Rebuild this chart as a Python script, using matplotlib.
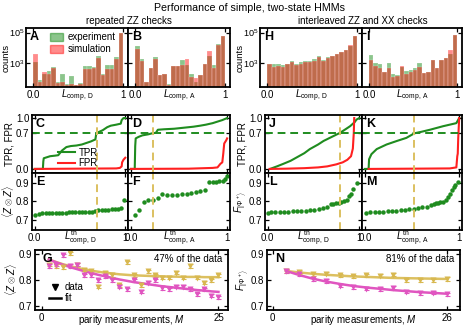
import matplotlib
matplotlib.use('Agg')
import matplotlib.pyplot as plt
from matplotlib.lines import Line2D
from matplotlib.patches import Patch

plt.rcParams['font.family'] = ['Liberation Sans', 'DejaVu Sans']
plt.rcParams['mathtext.fontset'] = 'custom'
plt.rcParams['mathtext.rm'] = 'Liberation Sans'
plt.rcParams['mathtext.it'] = 'Liberation Sans:italic'
plt.rcParams['mathtext.bf'] = 'Liberation Sans:bold'
plt.rcParams['font.size'] = 7

# ---------------- data ----------------
bin_left = [0.00, 0.05, 0.10, 0.15, 0.20, 0.25, 0.30, 0.35, 0.40, 0.45,
            0.50, 0.55, 0.60, 0.65, 0.70, 0.75, 0.80, 0.85, 0.90, 0.95]

# log10(counts)
a_exp = [3.05, 1.85, 2.25, 2.45, 2.70, 1.70, 2.25, 1.60, 2.15, 1.55,
         1.65, 2.80, 2.80, 2.75, 3.45, 2.25, 2.85, 2.85, 3.35, 4.95]
a_sim = [3.55, 1.75, 2.40, 2.25, 2.68, 1.65, 1.75, 1.55, 1.60, 1.50,
         1.60, 2.62, 2.60, 2.65, 3.30, 2.20, 2.60, 2.60, 3.25, 4.98]
b_exp = [4.10, 3.22, 1.75, 2.63, 3.35, 2.20, 2.25, 1.57, 2.80, 2.80,
         3.17, 2.85, 2.23, 1.75, 2.20, 2.90, 3.46, 2.85, 4.27, 4.76]
b_sim = [3.90, 3.15, 1.72, 2.67, 3.28, 2.20, 2.25, 1.55, 2.80, 2.80,
         2.85, 3.28, 2.08, 1.97, 2.20, 2.92, 3.77, 2.63, 4.20, 4.76]
h_exp = [2.95, 2.90, 2.95, 2.85, 2.95, 3.15, 2.95, 3.05, 3.15, 3.15,
         3.25, 3.45, 3.20, 3.35, 3.45, 3.60, 3.70, 3.85, 4.10, 4.75]
h_sim = [2.95, 2.75, 2.80, 2.75, 2.90, 3.05, 2.85, 2.95, 3.05, 3.05,
         3.15, 3.35, 3.15, 3.30, 3.45, 3.60, 3.70, 3.85, 4.15, 4.78]
i_exp = [3.50, 2.96, 2.90, 2.40, 2.96, 2.23, 2.19, 2.75, 2.45, 2.52,
         2.63, 2.96, 2.30, 2.40, 3.18, 2.63, 3.18, 3.33, 3.60, 4.87]
i_sim = [3.18, 2.80, 2.63, 2.40, 2.63, 2.08, 2.10, 2.80, 2.23, 2.36,
         2.50, 2.74, 2.30, 2.40, 3.18, 2.63, 3.18, 3.33, 3.83, 4.87]

c_tpr_x = [0.0, 0.09, 0.095, 0.10, 0.17, 0.22, 0.26, 0.30, 0.35, 0.40, 0.46, 0.52,
           0.57, 0.62, 0.67, 0.68, 0.70, 0.75, 0.80, 0.84, 0.90, 0.95, 0.96, 0.98, 1.0]
c_tpr_y = [0.0, 0.0, 0.15, 0.21, 0.25, 0.26, 0.27, 0.36, 0.43, 0.45, 0.46, 0.48,
           0.51, 0.54, 0.58, 0.70, 0.72, 0.76, 0.82, 0.85, 0.87, 0.89, 0.96, 1.0, 1.0]
c_fpr_x = [0.0, 0.90, 0.94, 0.96, 0.965, 0.98, 1.0]
c_fpr_y = [0.0, 0.01, 0.02, 0.05, 0.13, 0.18, 0.22]
d_tpr_x = [0.0, 0.04, 0.045, 0.05, 0.08, 0.12, 0.18, 0.22, 0.26, 0.28, 0.35, 0.45,
           0.50, 0.55, 0.65, 0.72, 0.78, 0.85, 0.90, 0.95, 1.0]
d_tpr_y = [0.0, 0.0, 0.45, 0.60, 0.63, 0.66, 0.68, 0.70, 0.71, 0.77, 0.78, 0.79,
           0.80, 0.81, 0.83, 0.85, 0.87, 0.90, 0.93, 0.96, 1.0]
d_fpr_x = [0.0, 0.60, 0.85, 0.90, 0.93, 0.95, 0.96, 0.97, 0.99, 1.0]
d_fpr_y = [0.0, 0.005, 0.02, 0.03, 0.10, 0.13, 0.30, 0.50, 0.56, 0.60]
j_tpr_x = [0.025, 0.10, 0.17, 0.25, 0.32, 0.40, 0.46, 0.55, 0.61, 0.70, 0.79,
           0.85, 0.90, 0.95, 0.97, 1.0]
j_tpr_y = [0.0, 0.05, 0.10, 0.16, 0.23, 0.31, 0.39, 0.48, 0.55, 0.63, 0.71,
           0.78, 0.84, 0.92, 0.97, 1.0]
j_fpr_x = [0.02, 0.20, 0.40, 0.55, 0.65, 0.75, 0.82, 0.87, 0.91, 0.93, 0.94, 0.945]
j_fpr_y = [0.0, 0.005, 0.015, 0.03, 0.05, 0.09, 0.13, 0.18, 0.25, 0.40, 0.70, 1.0]
k_tpr_x = [0.0, 0.04, 0.045, 0.07, 0.126, 0.23, 0.34, 0.44, 0.525, 0.60, 0.69,
           0.83, 0.97, 1.0]
k_tpr_y = [0.0, 0.0, 0.19, 0.29, 0.39, 0.48, 0.55, 0.61, 0.70, 0.73, 0.77,
           0.84, 0.90, 1.0]
k_fpr_x = [0.04, 0.50, 0.90, 0.97, 0.98, 0.985, 0.99, 1.0]
k_fpr_y = [0.0, 0.005, 0.01, 0.03, 0.25, 0.30, 0.60, 1.0]

e_x = [0.0, 0.045, 0.08, 0.12, 0.155, 0.19, 0.23, 0.265, 0.30, 0.34, 0.375, 0.41, 0.45, 0.485,
       0.52, 0.56, 0.595, 0.63, 0.665, 0.70, 0.74, 0.775, 0.81, 0.85, 0.885, 0.92, 0.955, 0.985]
e_y = [0.727, 0.735, 0.737, 0.738, 0.738, 0.739, 0.739, 0.740, 0.740, 0.740, 0.741, 0.741,
       0.741, 0.742, 0.742, 0.743, 0.744, 0.745, 0.748, 0.755, 0.756, 0.755, 0.756, 0.757,
       0.758, 0.760, 0.762, 0.808]
f_x = [0.043, 0.088, 0.136, 0.18, 0.233, 0.278, 0.327, 0.372, 0.424, 0.476, 0.528, 0.58,
       0.62, 0.674, 0.718, 0.77, 0.815, 0.85, 0.885, 0.92, 0.955, 0.98, 1.0]
f_y = [0.726, 0.753, 0.796, 0.805, 0.809, 0.819, 0.837, 0.833, 0.832, 0.835, 0.837, 0.840,
       0.843, 0.849, 0.854, 0.858, 0.902, 0.904, 0.905, 0.907, 0.909, 0.918, 0.935]
l_x = [0.0, 0.036, 0.084, 0.13, 0.178, 0.226, 0.273, 0.32, 0.368, 0.415, 0.462, 0.51, 0.557,
       0.604, 0.652, 0.688, 0.717, 0.747, 0.776, 0.805, 0.834, 0.863, 0.885, 0.907, 0.936, 0.973]
l_y = [0.740, 0.741, 0.742, 0.743, 0.744, 0.745, 0.746, 0.748, 0.749, 0.751, 0.753, 0.755,
       0.757, 0.763, 0.772, 0.785, 0.788, 0.790, 0.792, 0.795, 0.800, 0.809, 0.826, 0.840,
       0.867, 0.896]
m_x = [0.013, 0.059, 0.105, 0.151, 0.197, 0.243, 0.29, 0.335, 0.38, 0.427, 0.473, 0.519,
       0.565, 0.611, 0.657, 0.703, 0.728, 0.753, 0.777, 0.802, 0.827, 0.86, 0.88, 0.90,
       0.92, 0.94, 0.96, 0.99]
m_y = [0.740, 0.741, 0.743, 0.743, 0.745, 0.747, 0.749, 0.750, 0.753, 0.755, 0.758, 0.761,
       0.765, 0.768, 0.772, 0.781, 0.788, 0.791, 0.793, 0.795, 0.798, 0.809, 0.823, 0.840,
       0.858, 0.875, 0.889, 0.902]

thr_cd, thr_jk = 0.69, 0.23
thr_j, thr_k = 0.79, 0.525

g_m = list(range(1, 26))
g_yel = [0.860, 0.855, 0.850, 0.905, 0.860, 0.840, 0.835, 0.775, 0.830, 0.820, 0.780, 0.870,
         0.820, 0.780, 0.835, 0.820, 0.810, 0.810, 0.830, 0.810, 0.855, 0.810, 0.790, 0.800, 0.820]
g_mag = [0.855, 0.860, 0.897, 0.855, 0.860, 0.820, 0.820, 0.800, 0.815, 0.800, 0.775, 0.765,
         0.800, 0.755, 0.790, 0.800, 0.770, 0.765, 0.775, 0.775, 0.765, 0.745, 0.765, 0.740, 0.735]
g_yel_fit = [0.880, 0.871, 0.862, 0.855, 0.848, 0.842, 0.837, 0.833, 0.829, 0.826, 0.823, 0.821,
             0.819, 0.818, 0.817, 0.816, 0.815, 0.814, 0.814, 0.813, 0.813, 0.813, 0.812, 0.812, 0.812]
g_mag_fit = [0.880, 0.870, 0.860, 0.851, 0.843, 0.835, 0.828, 0.821, 0.815, 0.809, 0.803, 0.798,
             0.793, 0.789, 0.785, 0.781, 0.777, 0.774, 0.771, 0.768, 0.765, 0.762, 0.760, 0.757, 0.755]

n_m = [2, 4, 6, 8, 10, 12, 14, 16, 18, 20, 22, 24, 26]
n_yel = [0.836, 0.832, 0.823, 0.825, 0.819, 0.815, 0.819, 0.818, 0.822, 0.800, 0.800, 0.800, 0.805]
n_mag = [0.836, 0.823, 0.803, 0.797, 0.778, 0.772, 0.768, 0.766, 0.770, 0.756, 0.749, 0.752, 0.746]
n_yel_fit = [0.836, 0.830, 0.825, 0.821, 0.818, 0.815, 0.813, 0.811, 0.809, 0.808, 0.807, 0.806, 0.805]
n_mag_fit = [0.836, 0.820, 0.806, 0.795, 0.786, 0.778, 0.772, 0.767, 0.762, 0.758, 0.754, 0.751, 0.748]

# ---------------- style ----------------
W, H = 468, 326
GREEN = '#1f8c1f'
RED = '#ff2020'
YEL = '#dcc060'
MAG = '#e055c0'
YEL_PT = '#d8b850'

fig = plt.figure(figsize=(W / 100, H / 100), dpi=100)


def px_axes(l, t, r, b):
    ax = fig.add_axes([l / W, 1 - b / H, (r - l) / W, (b - t) / H])
    for s in ax.spines.values():
        s.set_linewidth(1.3)
    ax.tick_params(direction='in', top=True, right=True, length=3, width=0.9,
                   labelsize=7, pad=2)
    ax.tick_params(which='minor', length=0)
    return ax


def letter(ax, s):
    ax.text(0.04, 0.95, s, transform=ax.transAxes, fontsize=9, fontweight='bold',
            va='top', ha='left')


def hist(ax, exp, sim, lab, xl):
    ax.bar(bin_left, [10 ** v for v in exp], width=0.05, align='edge', bottom=1,
           color='green', alpha=0.45, edgecolor='white', linewidth=0.3)
    ax.bar(bin_left, [10 ** v for v in sim], width=0.05, align='edge', bottom=1,
           color='red', alpha=0.45, edgecolor='white', linewidth=0.3)
    ax.set_yscale('log')
    ax.set_ylim(10 ** 1.4, 10 ** 5.3)
    ax.set_xlim(-0.078, 1.055)
    ax.set_yticks([1e3, 1e5])
    ax.yaxis.set_minor_locator(plt.NullLocator())
    ax.tick_params(axis='y', pad=1.2, labelsize=6.6)
    ax.set_xticks([0, 1])
    ax.set_xticklabels(['0.0', '1'])
    ax.set_xlabel(xl, labelpad=-9)
    letter(ax, lab)


fig.text(250 / W, 1 - 8 / H, 'Performance of simple, two-state HMMs', ha='center',
         va='center', fontsize=7.7)
fig.text(129 / W, 1 - 21 / H, 'repeated ZZ checks', ha='center', va='center')
fig.text(363 / W, 1 - 21 / H, 'interleaved ZZ and XX checks', ha='center', va='center')

xl_d = r'$L_{\rm comp,\,D}$'
xl_a = r'$L_{\rm comp,\,A}$'
xl_td = r'$L^{\rm th}_{\rm comp,\,D}$'
xl_ta = r'$L^{\rm th}_{\rm comp,\,A}$'

axA = px_axes(26, 28, 128, 87)
hist(axA, a_exp, a_sim, 'A', xl_d)
axA.set_ylabel('counts', labelpad=-1, fontsize=6.8)
axA.legend(handles=[Patch(color='green', alpha=0.45, label='experiment'),
                    Patch(color='red', alpha=0.45, label='simulation')],
           loc='upper left', bbox_to_anchor=(0.18, 1.03), frameon=False,
           handlelength=1.3, handleheight=0.9, handletextpad=0.5, labelspacing=0.2,
           borderaxespad=0.2, fontsize=7)
axB = px_axes(128, 28, 230, 87)
hist(axB, b_exp, b_sim, 'B', xl_a)
axB.set_yticklabels([])
axH = px_axes(260, 28, 362, 87)
hist(axH, h_exp, h_sim, 'H', xl_d)
axH.set_ylabel('counts', labelpad=-1, fontsize=6.8)
axI = px_axes(362, 28, 462, 87)
hist(axI, i_exp, i_sim, 'I', xl_a)
axI.set_yticklabels([])


def roc(ax, tx, ty, fx, fy, thr, lab, ylab):
    ax.plot(tx, ty, color=GREEN, lw=1.5, label='TPR')
    ax.plot(fx, fy, color=RED, lw=1.5, label='FPR')
    ax.axhline(0.7, color=GREEN, lw=1.4, dashes=(4, 2.5))
    ax.axvline(thr, color=YEL, lw=1.4, dashes=(4, 2.5))
    ax.set_xlim(-0.03, 1.03)
    ax.set_ylim(-0.08, 1.06)
    ax.set_yticks([0, 0.7, 1.0])
    ax.set_xticks([0, 1])
    ax.set_xticklabels([])
    if ylab:
        ax.set_yticklabels(['0.0', '0.7', '1.0'])
        ax.set_ylabel('TPR, FPR', labelpad=1)
    else:
        ax.set_yticklabels([])
    letter(ax, lab)


def fid(ax, x, y, thr, lab, xl, ylab):
    ax.plot(x, y, 'o', color=GREEN, ms=3.2, mec='none')
    ax.axvline(thr, color=YEL, lw=1.4, dashes=(4, 2.5))
    ax.set_xlim(-0.03, 1.03)
    ax.set_ylim(0.647, 0.951)
    ax.set_yticks([0.7, 0.8, 0.9])
    ax.set_xticks([0, 1])
    ax.set_xticklabels(['0.0', '1'])
    ax.set_xlabel(xl, labelpad=-10.5)
    if ylab:
        ax.set_ylabel(ylab, labelpad=0)
    else:
        ax.set_yticklabels([])
    letter(ax, lab)


axC = px_axes(32, 115, 128, 173)
roc(axC, c_tpr_x, c_tpr_y, c_fpr_x, c_fpr_y, thr_cd, 'C', True)
axC.legend(loc='lower left', bbox_to_anchor=(0.22, 0.0), frameon=False, handlelength=1.8,
           handletextpad=0.3, labelspacing=0.05, borderaxespad=0.1, fontsize=7)
axD = px_axes(128, 115, 230, 173)
roc(axD, d_tpr_x, d_tpr_y, d_fpr_x, d_fpr_y, thr_jk, 'D', False)
axJ = px_axes(265, 115, 362, 173)
roc(axJ, j_tpr_x, j_tpr_y, j_fpr_x, j_fpr_y, thr_j, 'J', True)
axK = px_axes(362, 115, 462, 173)
roc(axK, k_tpr_x, k_tpr_y, k_fpr_x, k_fpr_y, thr_k, 'K', False)

zz = r'$\langle Z\otimes Z\rangle$'
fphi = r'$F_{|\Phi^+\rangle}$'
axE = px_axes(32, 173, 128, 230)
fid(axE, e_x, e_y, thr_cd, 'E', xl_td, zz)
axF = px_axes(128, 173, 230, 230)
fid(axF, f_x, f_y, thr_jk, 'F', xl_ta, None)
axL = px_axes(265, 173, 362, 230)
fid(axL, l_x, l_y, thr_j, 'L', xl_td, fphi)
axM = px_axes(362, 173, 462, 230)
fid(axM, m_x, m_y, thr_k, 'M', xl_ta, None)


def decay(ax, m, yel, mag, yfit, mfit, lab, txt, ylab, xlim, xt):
    ax.plot(m, yfit, color=YEL, lw=1.8)
    ax.plot(m, mfit, color=MAG, lw=1.8)
    ax.errorbar(m, yel, yerr=0.006, fmt='v', color=YEL_PT, ms=4, capsize=1.8,
                elinewidth=0.8, capthick=0.8, mec='none')
    ax.errorbar(m, mag, yerr=0.006, fmt='v', color=MAG, ms=4, capsize=1.8,
                elinewidth=0.8, capthick=0.8, mec='none')
    ax.set_xlim(*xlim)
    ax.set_ylim(0.685, 0.917)
    ax.set_yticks([0.7, 0.8, 0.9])
    ax.set_xticks(xt)
    ax.set_xlabel(r'parity measurements, $M$', labelpad=-7)
    ax.set_ylabel(ylab, labelpad=0)
    ax.text(0.97, 0.93, txt, transform=ax.transAxes, ha='right', va='top', fontsize=7)
    letter(ax, lab)


axG = px_axes(35, 250, 228, 310)
decay(axG, g_m, g_yel, g_mag, g_yel_fit, g_mag_fit, 'G', '47% of the data', zz,
      (-0.95, 26.35), [0, 25])
axG.legend(handles=[Line2D([], [], marker='v', color='k', ls='none', ms=4, label='data'),
                    Line2D([], [], color='k', lw=1.8, label='fit')],
           loc='lower left', bbox_to_anchor=(0.04, 0.02), frameon=False, handlelength=1.3,
           handletextpad=0.4, labelspacing=0.1, borderaxespad=0.2, fontsize=7)
axN = px_axes(267, 250, 460, 310)
decay(axN, n_m, n_yel, n_mag, n_yel_fit, n_mag_fit, 'N', '81% of the data', fphi,
      (-0.85, 28.0), [0, 26])

fig.savefig('out.png', dpi=100)
